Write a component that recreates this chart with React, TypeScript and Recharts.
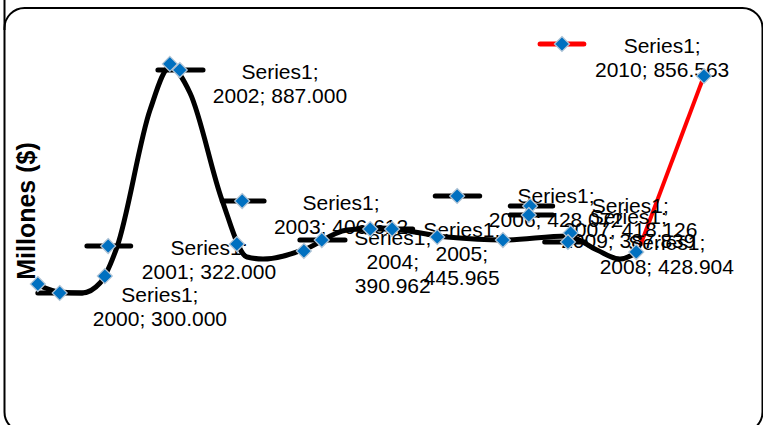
import React from 'react';
import { ComposedChart, Line, Scatter, XAxis, YAxis, ReferenceLine } from 'recharts';

// Main smoothed black series (year position, millions)
const curve = [
  { x: 1999.973, y: 319.0 },
  { x: 2000.304, y: 301.0 },
  { x: 2000.636, y: 298.5 },
  { x: 2000.907, y: 324.1 },
  { x: 2001.163, y: 416.4 },
  { x: 2001.661, y: 767.8 },
  { x: 2001.962, y: 878.1 },
  { x: 2002.264, y: 811.5 },
  { x: 2002.746, y: 537.0 },
  { x: 2003.123, y: 390.8 },
  { x: 2003.364, y: 385.7 },
  { x: 2003.967, y: 408.7 },
  { x: 2004.63, y: 460.0 },
  { x: 2005.127, y: 465.2 },
  { x: 2006.137, y: 442.1 },
  { x: 2006.981, y: 434.4 },
  { x: 2007.946, y: 444.7 },
  { x: 2008.398, y: 408.7 },
  { x: 2008.744, y: 385.7 },
  { x: 2008.986, y: 401.1 },
];

// Red series
const redLine = [
  { x: 2009.05, y: 420.0 },
  { x: 2010.01, y: 855.1 },
];

// Diamond markers
const markers = [
  { x: 1999.97, y: 321.5 },
  { x: 2000.3, y: 298.5 },
  { x: 2000.98, y: 342.0 },
  { x: 2001.03, y: 419.0 },
  { x: 2001.96, y: 886.0 },
  { x: 2002.11, y: 870.4 },
  { x: 2003.05, y: 534.4 },
  { x: 2002.97, y: 424.1 },
  { x: 2003.98, y: 406.2 },
  { x: 2004.25, y: 434.4 },
  { x: 2004.98, y: 462.6 },
  { x: 2005.31, y: 462.6 },
  { x: 2005.99, y: 442.1 },
  { x: 2006.29, y: 547.3 },
  { x: 2006.98, y: 434.4 },
  { x: 2007.39, y: 521.6 },
  { x: 2007.37, y: 498.5 },
  { x: 2008.0, y: 452.4 },
  { x: 2007.96, y: 429.3 },
  { x: 2008.99, y: 403.6 },
  { x: 2010.01, y: 855.1 },
];

// Short horizontal black bars
const bars = [
  { x1: 1999.97, x2: 2000.64, y: 298.5 },
  { x1: 2000.71, x2: 2001.37, y: 419.0 },
  { x1: 2001.78, x2: 2002.46, y: 870.4 },
  { x1: 2002.75, x2: 2003.38, y: 534.4 },
  { x1: 2003.92, x2: 2004.6, y: 434.4 },
  { x1: 2004.78, x2: 2005.62, y: 462.6 },
  { x1: 2005.96, x2: 2006.63, y: 547.3 },
  { x1: 2007.09, x2: 2007.73, y: 521.6 },
  { x1: 2007.09, x2: 2007.73, y: 498.5 },
  { x1: 2007.61, x2: 2008.22, y: 429.3 },
];

// Legend entry
const legendLine = { x1: 2007.54, x2: 2008.2, y: 937.1 };
const legendMarker = [{ x: 2007.87, y: 937.1 }];

// Data labels
const labels = [
  { x: 2003.62, y: 847.4, lines: ['Series1;', '2002; 887.000'] },
  { x: 2002.55, y: 395.9, lines: ['Series1;', '2001; 322.000'] },
  { x: 2001.81, y: 275.4, lines: ['Series1;', '2000; 300.000'] },
  { x: 2004.54, y: 511.4, lines: ['Series1;', '2003; 406.612'] },
  { x: 2005.32, y: 421.6, lines: ['Series1;', '2004;', '390.962'] },
  { x: 2006.36, y: 442.1, lines: ['Series1;', '2005;', '445.965'] },
  { x: 2007.78, y: 529.3, lines: ['Series1;', '2006; 428.072'] },
  { x: 2008.9, y: 503.7, lines: ['Series1;', '2007; 418.126'] },
  { x: 2008.87, y: 475.4, lines: ['Series1;', '2009; 387.839'] },
  { x: 2009.45, y: 408.7, lines: ['Series1;', '2008; 428.904'] },
  { x: 2009.38, y: 914.1, lines: ['Series1;', '2010; 856.563'] },
];

const FONT = '"Liberation Sans", Arial, sans-serif';

const Diamond = (props: any) => {
  const { cx, cy } = props;
  if (cx == null || cy == null) return null;
  const r = 7.5;
  return (
    <polygon
      points={`${cx},${cy - r} ${cx + r},${cy} ${cx},${cy + r} ${cx - r},${cy}`}
      fill="#0070C0"
      stroke="#b4c6d6"
      strokeWidth={1.2}
    />
  );
};

const LabelShape = (props: any) => {
  const { cx, cy, payload } = props;
  if (cx == null || cy == null) return null;
  return (
    <text x={cx} y={cy} textAnchor="middle" fontFamily={FONT} fontSize={21} fill="#000">
      {payload.lines.map((l: string, i: number) => (
        <tspan key={i} x={cx} y={cy + i * 24}>
          {l}
        </tspan>
      ))}
    </text>
  );
};

export default function App() {
  return (
    <div style={{ position: 'absolute', left: 0, top: 0, width: 763, height: 425, background: '#fff', overflow: 'hidden' }}>
      <ComposedChart width={763} height={425} margin={{ top: 0, right: 0, bottom: 0, left: 0 }}>
        <XAxis type="number" dataKey="x" domain={[1999.4, 2010.9]} hide allowDataOverflow />
        <YAxis type="number" dataKey="y" domain={[-40, 1050]} hide allowDataOverflow />
        <Scatter data={labels} dataKey="y" shape={<LabelShape />} isAnimationActive={false} />
        <Line
          data={curve}
          dataKey="y"
          type="monotone"
          stroke="#000"
          strokeWidth={5}
          dot={false}
          activeDot={false}
          isAnimationActive={false}
        />
        <Line
          data={redLine}
          dataKey="y"
          type="linear"
          stroke="#ff0000"
          strokeWidth={4}
          dot={false}
          activeDot={false}
          isAnimationActive={false}
        />
        {bars.map((b, i) => (
          <ReferenceLine
            key={i}
            segment={[{ x: b.x1, y: b.y }, { x: b.x2, y: b.y }]}
            stroke="#000"
            strokeWidth={5}
            strokeLinecap="round"
          />
        ))}
        <ReferenceLine
          segment={[{ x: legendLine.x1, y: legendLine.y }, { x: legendLine.x2, y: legendLine.y }]}
          stroke="#ff0000"
          strokeWidth={5}
          strokeLinecap="round"
        />
        <Scatter data={markers} dataKey="y" shape={<Diamond />} isAnimationActive={false} />
        <Scatter data={legendMarker} dataKey="y" shape={<Diamond />} isAnimationActive={false} />
      </ComposedChart>
      <svg width={763} height={425} style={{ position: 'absolute', left: 0, top: 0, pointerEvents: 'none' }}>
        <rect x={4.5} y={8} width={758} height={424} rx={20} ry={20} fill="none" stroke="#000" strokeWidth={2} />
        <line x1={4.5} y1={0} x2={4.5} y2={30} stroke="#000" strokeWidth={2} />
        <text
          x={0}
          y={0}
          transform="translate(26,211) rotate(-90)"
          textAnchor="middle"
          dominantBaseline="central"
          fontFamily={FONT}
          fontWeight="bold"
          fontSize={25}
          fill="#000"
        >
          Millones ($)
        </text>
      </svg>
    </div>
  );
}
